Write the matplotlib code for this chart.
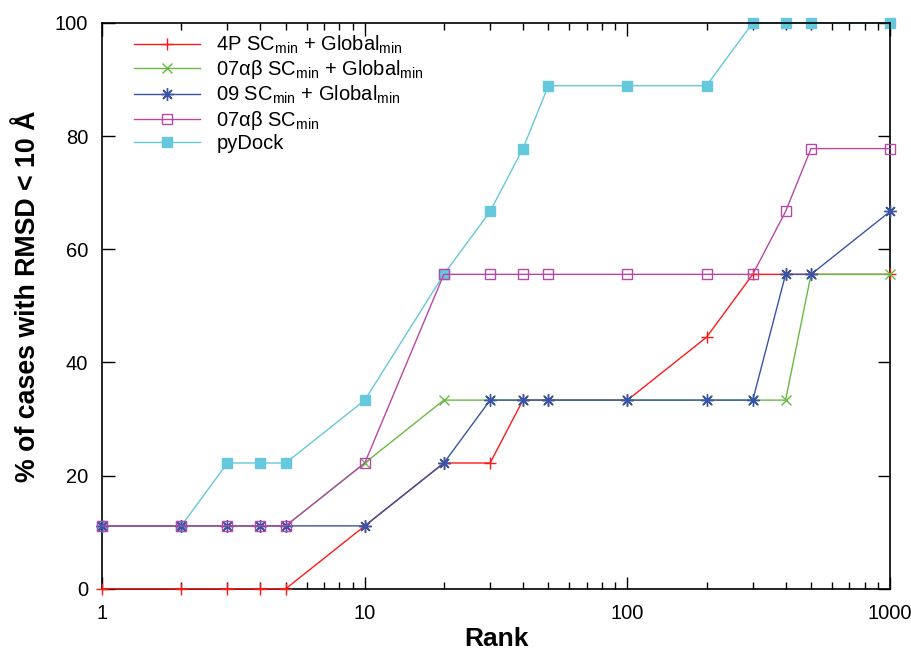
import matplotlib
matplotlib.use("Agg")
import matplotlib.pyplot as plt
from matplotlib.ticker import FixedLocator, NullFormatter, LogLocator

plt.rcParams["font.family"] = ["Liberation Sans", "DejaVu Sans"]
plt.rcParams["mathtext.fontset"] = "custom"
plt.rcParams["mathtext.rm"] = "Liberation Sans"

ranks = [1, 2, 3, 4, 5, 10, 20, 30, 40, 50, 100, 200, 300, 400, 500, 1000]
n = 100.0 / 9.0

pydock = [1, 1, 2, 2, 2, 3, 5, 6, 7, 8, 8, 8, 9, 9, 9, 9]
sc_4p_global = [0, 0, 0, 0, 0, 1, 2, 2, 3, 3, 3, 4, 5, 5, 5, 5]
sc_07ab_global = [1, 1, 1, 1, 1, 2, 3, 3, 3, 3, 3, 3, 3, 3, 5, 5]
sc_09_global = [1, 1, 1, 1, 1, 1, 2, 3, 3, 3, 3, 3, 3, 5, 5, 6]
sc_07ab = [1, 1, 1, 1, 1, 2, 5, 5, 5, 5, 5, 5, 5, 6, 7, 7]

labels = [
    r"4P SC$_{\rm min}$ + Global$_{\rm min}$",
    r"07αβ SC$_{\rm min}$ + Global$_{\rm min}$",
    r"09 SC$_{\rm min}$ + Global$_{\rm min}$",
    r"07αβ SC$_{\rm min}$",
    "pyDock",
]


def pct(counts):
    return [c * n for c in counts]


fig = plt.figure(figsize=(9.12, 6.52), dpi=100)
ax = fig.add_axes([0.112, 0.097, 0.864, 0.868])

common = dict(lw=1.0, clip_on=False)
lines = {}
lines["pydock"], = ax.plot(ranks, pct(pydock), color="#66c8dc",
                           marker="s", ms=6.5, mfc="#66c8dc", mec="#66c8dc",
                           zorder=2, **common)
lines["4p"], = ax.plot(ranks, pct(sc_4p_global), color="#ff1a1a",
                       marker="+", ms=9, mew=1.0, zorder=3, **common)
lines["07g"], = ax.plot(ranks, pct(sc_07ab_global), color="#66bb44",
                        marker="x", ms=7, mew=1.0, zorder=4, **common)
lines["09"], = ax.plot(ranks, pct(sc_09_global), color="#3a55a4",
                       marker=(8, 2, 0), ms=9, mew=1.0, zorder=5, **common)
lines["07"], = ax.plot(ranks, pct(sc_07ab), color="#b848a8",
                       marker="s", ms=7.5, mfc="none", mec="#b848a8", mew=1.0,
                       zorder=6, **common)

ax.set_xscale("log")
ax.set_xlim(1, 1000)
ax.set_ylim(0, 100)
ax.xaxis.set_major_locator(FixedLocator([1, 10, 100, 1000]))
ax.set_xticklabels(["1", "10", "100", "1000"])
ax.xaxis.set_minor_locator(LogLocator(base=10, subs=range(2, 10)))
ax.xaxis.set_minor_formatter(NullFormatter())
ax.set_yticks([0, 20, 40, 60, 80, 100])

ax.tick_params(which="both", direction="in", top=True, right=True,
               labelsize=14.5, width=1.0)
ax.tick_params(axis="y", pad=10)
ax.tick_params(axis="x", pad=11)
ax.tick_params(which="major", length=9)
ax.tick_params(which="minor", length=5)
for spine in ax.spines.values():
    spine.set_linewidth(1.2)

ax.set_xlabel("Rank", fontsize=19, fontweight="bold", labelpad=3)
ax.set_ylabel("% of cases with RMSD < 10 Å", fontsize=19.3, fontweight="bold")
ax.yaxis.set_label_coords(-0.077, 0.516)

handles = [lines["4p"], lines["07g"], lines["09"], lines["07"], lines["pydock"]]
ax.legend(handles, labels, loc="upper left", frameon=False, fontsize=14.5,
          handlelength=3.3, handletextpad=0.8, labelspacing=0.12,
          borderaxespad=0.0, bbox_to_anchor=(0.03, 0.995))

fig.savefig("out.png", dpi=100)
